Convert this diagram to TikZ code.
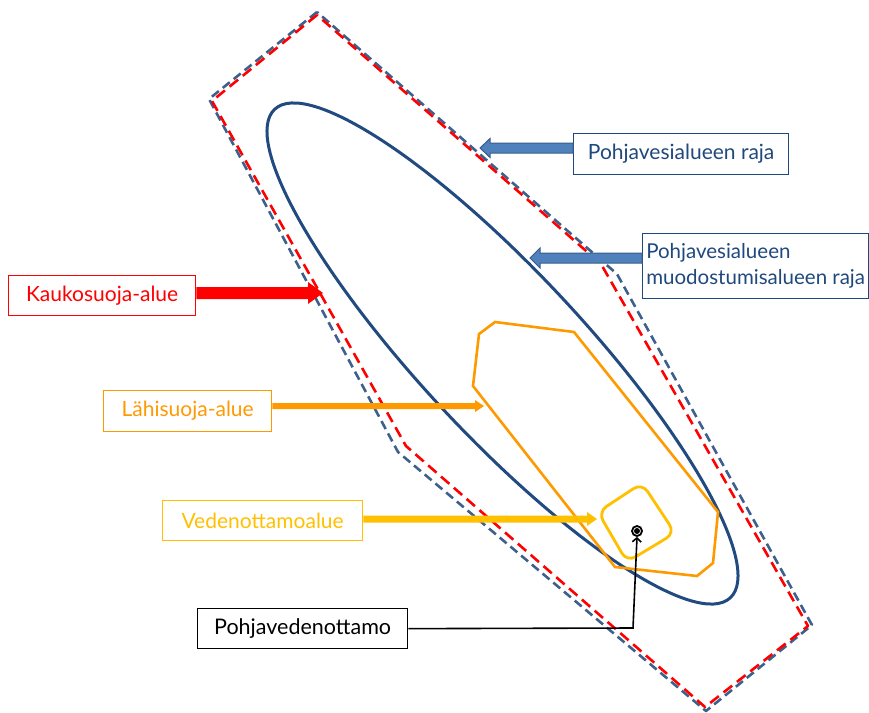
\documentclass[tikz,border=0pt]{standalone}
\usepackage{fontspec}
\setmainfont{Lato}
\usetikzlibrary{calc,arrows.meta}
\definecolor{dblue}{RGB}{31,73,125}
\definecolor{ellblue}{RGB}{33,74,128}
\definecolor{dashblue}{RGB}{62,96,140}
\definecolor{arrblue}{RGB}{79,129,189}
\definecolor{arrblueline}{RGB}{56,93,138}
\definecolor{orng}{RGB}{255,153,0}
\definecolor{gold}{RGB}{255,192,0}
% #1 from node anchor, #2 tip, #3 shaft half, #4 head half, #5 signed head length, #6 style
\newcommand{\blockarrow}[6]{%
  \path[#6] let \p1=(#1), \p2=(#2) in
    (\x2,\y2) -- (\x2+#5,\y2+#4) -- (\x2+#5,\y2+#3) -- (\x1,\y2+#3) --
    (\x1,\y2-#3) -- (\x2+#5,\y2-#3) -- (\x2+#5,\y2-#4) -- cycle;}
\begin{document}
\begin{tikzpicture}[x=1pt,y=-1pt,
  labelbox/.style={draw, line width=1.3pt, inner sep=0pt, anchor=north west,
    font=\fontsize{21}{26}\selectfont, fill=white},
  bluedash/.style={draw=dashblue, line width=2.6pt, dash pattern=on 9pt off 5pt, line join=round},
  reddash/.style={draw=red, line width=2.6pt, dash pattern=on 11pt off 6pt, line join=round},
  zone/.style={line width=2.6pt, line join=miter}
]
\useasboundingbox (0,0) rectangle (869,712);

% outer dashed boundaries
\draw[bluedash] (317,12) -- (209,99) -- (398,452) -- (706,711)
  -- (812,625) -- (617,274) -- cycle;
\draw[reddash] (317,15) -- (212,101) -- (406,446) -- (705,707)
  -- (808,626) -- (601,264) -- cycle;

% formation area ellipse
\draw[ellblue, line width=3pt, shift={(502.5,353.5)}, rotate=-47]
  (0,0) ellipse [x radius=334pt, y radius=81.5pt];

% near protection zone
\draw[zone, orng] (495,322) -- (574,332) -- (718,512) -- (713,563) -- (697,576)
  -- (615,567) -- (473,386) -- (479,334) -- cycle;

% intake area
\draw[zone, gold, line width=2.8pt, rounded corners=10pt] (598,512) -- (642,483) -- (675,533) -- (627,562) -- cycle;

% well
\node[circle, draw=black, line width=1.8pt, inner sep=0pt, minimum size=10pt] (well) at (637,531) {};
\fill[black] (well.center) circle[radius=3pt];

% label boxes
\node[labelbox, draw=dblue, text=dblue, minimum width=215pt, minimum height=41pt] (raja) at (573,133) {Pohjavesialueen raja};
\node[labelbox, draw=dblue, text=dblue, minimum width=226pt, minimum height=65pt, align=left, font=\fontsize{20.5}{26}\selectfont] (muod) at (642,233) {Pohjavesialueen\\muodostumisalueen raja};
\node[labelbox, draw=red, text=red, minimum width=187pt, minimum height=40pt] (kauko) at (8,275) {Kaukosuoja-alue};
\node[labelbox, draw=orng, text=orng, minimum width=168pt, minimum height=41pt] (lahi) at (103,390) {Lähisuoja-alue};
\node[labelbox, draw=gold, text=gold, minimum width=200pt, minimum height=40pt] (veden) at (162,500) {Vedenottamoalue};
\node[labelbox, draw=black, text=black, minimum width=210pt, minimum height=40pt, font=\fontsize{21.5}{26}\selectfont] (ottamo) at (197,608) {Pohjavedenottamo};

% arrow tips
\coordinate (tipraja) at (480,148);
\coordinate (tipmuod) at (530,258);
\coordinate (tipkauko) at (323,293);
\coordinate (tiplahi) at (484,406);
\coordinate (tipveden) at (597,519);
\coordinate (bend) at (633,628);

\blockarrow{raja.west}{tipraja}{5pt}{9.5pt}{10pt}{fill=arrblue, draw=arrblueline, line width=1pt}
\blockarrow{muod.west}{tipmuod}{5pt}{10pt}{10pt}{fill=arrblue, draw=arrblueline, line width=1pt}
\blockarrow{kauko.east}{tipkauko}{6pt}{11pt}{-15pt}{fill=red}
\blockarrow{lahi.east}{tiplahi}{3pt}{6pt}{-9pt}{fill=orng}
\blockarrow{veden.east}{tipveden}{3.5pt}{7pt}{-10pt}{fill=gold}

% connector to well
\draw[black, line width=1.6pt, -{Straight Barb[length=4pt,width=9pt]}] (ottamo.east) -- (bend) -- (well.south);
\end{tikzpicture}
\end{document}
